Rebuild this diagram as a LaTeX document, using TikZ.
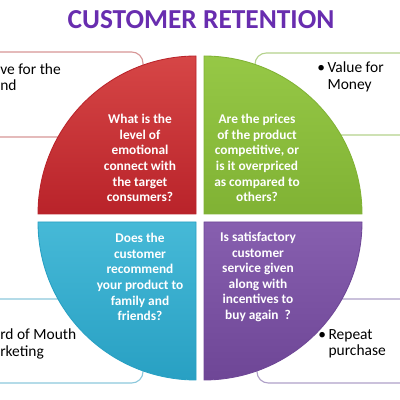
\documentclass[tikz,border=0pt]{standalone}
\usepackage{fontspec}
\setmainfont{Carlito}
\definecolor{titlepurple}{RGB}{104,45,175}
\definecolor{qred}{RGB}{185,35,42}
\definecolor{qredlight}{RGB}{214,70,70}
\definecolor{qgreen}{RGB}{128,178,52}
\definecolor{qgreenlight}{RGB}{150,200,70}
\definecolor{qblue}{RGB}{40,160,195}
\definecolor{qbluelight}{RGB}{70,185,215}
\definecolor{qpurple}{RGB}{110,70,150}
\definecolor{qpurplelight}{RGB}{135,95,175}
\definecolor{redline}{RGB}{215,150,150}
\definecolor{greenline}{RGB}{180,210,140}
\definecolor{blueline}{RGB}{140,200,220}
\definecolor{purpleline}{RGB}{175,160,200}
\begin{document}
\begin{tikzpicture}[x=0.025cm,y=0.025cm,
  sidebox/.style={fill=white,rounded corners=8,line width=0.8pt},
  quad/.style={line width=0.6pt},
  qtext/.style={text=white,font=\fontsize{9.5}{11.1}\selectfont\bfseries,align=center},
  btext/.style={font=\fontsize{11}{11.6}\selectfont,align=left,anchor=west,inner sep=0pt},
  title/.style={text=titlepurple,font=\fontsize{19.5}{24}\selectfont\bfseries}]
\useasboundingbox (0,0) rectangle (400,400);

\node[title] (ttl) at (201,380) {CUSTOMER RETENTION};

% side boxes
\draw[sidebox,draw=redline] (-20,263) rectangle (143,348);
\draw[sidebox,draw=greenline] (255,265) rectangle (420,347);
\draw[sidebox,draw=blueline] (-20,17) rectangle (143,101);
\draw[sidebox,draw=purpleline] (257,17) rectangle (420,101);

\node[btext] (brand) at (0,323) {ve for the\\nd};
\node[btext] (value) at (317,323) {\textbullet\,Value for\\\hphantom{\textbullet\,}Money};
\node[btext] (mouth) at (0,56) {rd of Mouth\\rketing};
\node[btext] (repeat) at (318,56) {\textbullet\,Repeat\\\hphantom{\textbullet\,}purchase};

% quadrants
\draw[quad,draw=qred,top color=qredlight,bottom color=qred] (196,186) -- (38,186) arc (180:90:158) -- cycle;
\draw[quad,draw=qgreen,top color=qgreenlight,bottom color=qgreen] (204,186) -- (204,344) arc (90:0:158) -- cycle;
\draw[quad,draw=qblue,top color=qbluelight,bottom color=qblue] (196,178) -- (196,20) arc (270:180:158) -- cycle;
\draw[quad,draw=qpurple,top color=qpurplelight,bottom color=qpurple] (204,178) -- (362,178) arc (0:-90:158) -- cycle;

\node[qtext] (qa) at (140,242) {What is the\\level of\\emotional\\connect with\\the target\\consumers?};
\node[qtext] (qb) at (257,242) {Are the prices\\of the product\\competitive, or\\is it overpriced\\as compared to\\others?};
\node[qtext] (qc) at (140,123) {Does the\\customer\\recommend\\your product to\\family and\\friends?};
\node[qtext] (qd) at (258,123) {Is satisfactory\\customer\\service given\\along with\\incentives to\\buy again~~?};
\end{tikzpicture}
\end{document}
